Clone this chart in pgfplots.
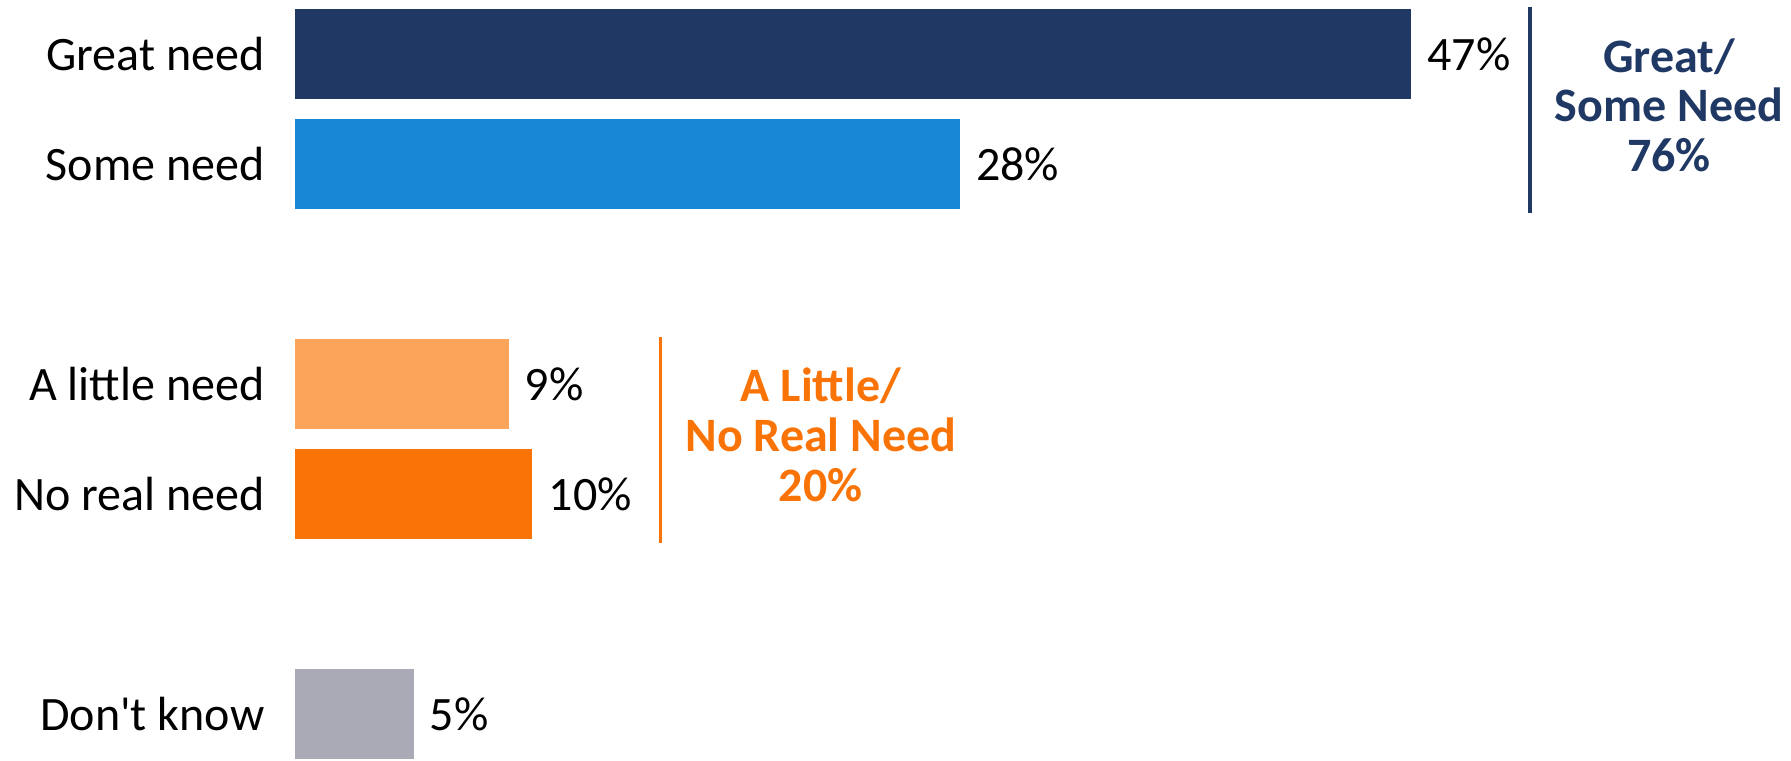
\documentclass[border=0pt]{standalone}
\usepackage{pgfplots}
\pgfplotsset{compat=1.18}
\usepackage{fontspec}
\setmainfont{Carlito}
\definecolor{cNavy}{HTML}{1F3864}
\definecolor{cBlue}{HTML}{1888D6}
\definecolor{cLOrange}{HTML}{FCA55A}
\definecolor{cOrange}{HTML}{F97306}
\definecolor{cGrey}{HTML}{A9AAB6}
\begin{document}
\begin{tikzpicture}[x=1pt,y=1pt]
\path[use as bounding box] (0,0) rectangle (895.5,380);
\begin{axis}[
  at={(147.4pt,0pt)}, anchor=south west,
  scale only axis, width=748.1pt, height=380pt,
  xmin=0, xmax=63, ymin=-0.491, ymax=6.418, y dir=reverse,
  xbar, bar width=45pt,
  axis line style={draw=none}, major tick length=0pt,
  xtick=\empty, ytick={0,1,3,4,6},
  yticklabels={Great need, Some need, A little need, No real need, Don\textquotesingle t know},
  yticklabel style={font=\fontsize{24}{28}\selectfont, inner sep=0pt, xshift=-15pt},
  point meta=x,
  nodes near coords={\pgfmathprintnumber[assume math mode=true]{\pgfplotspointmeta}\%},
  nodes near coords style={font=\fontsize{24}{28}\selectfont, anchor=west, inner sep=0pt, xshift=8pt, text=black},
  clip=false,
]
\addplot[fill=cNavy, draw=none, bar shift=0pt] coordinates {(47,0)};
\addplot[fill=cBlue, draw=none, bar shift=0pt] coordinates {(28,1)};
\addplot[fill=cLOrange, draw=none, bar shift=0pt] coordinates {(9,3)};
\addplot[fill=cOrange, draw=none, bar shift=0pt] coordinates {(10,4)};
\addplot[fill=cGrey, draw=none, bar shift=0pt] coordinates {(5,6)};
\end{axis}
\draw[cNavy, line width=1.7pt] (765,376.5) -- (765,273.5);
\draw[cOrange, line width=1.5pt] (330,211.5) -- (330,108.5);
\begin{scope}[every node/.style={font=\fontsize{24}{28}\selectfont\bfseries, anchor=base, inner sep=0pt}]
\node[text=cNavy] at (834.5,343.6) {Great/};
\node[text=cNavy] at (834.5,319.1) {Some Need};
\node[text=cNavy] at (834.5,294.1) {76\%};
\node[text=cOrange] at (410.4,179.1) {A Little/};
\node[text=cOrange] at (410.4,154.1) {No Real Need};
\node[text=cOrange] at (410.4,129.1) {20\%};
\end{scope}
\end{tikzpicture}
\end{document}
